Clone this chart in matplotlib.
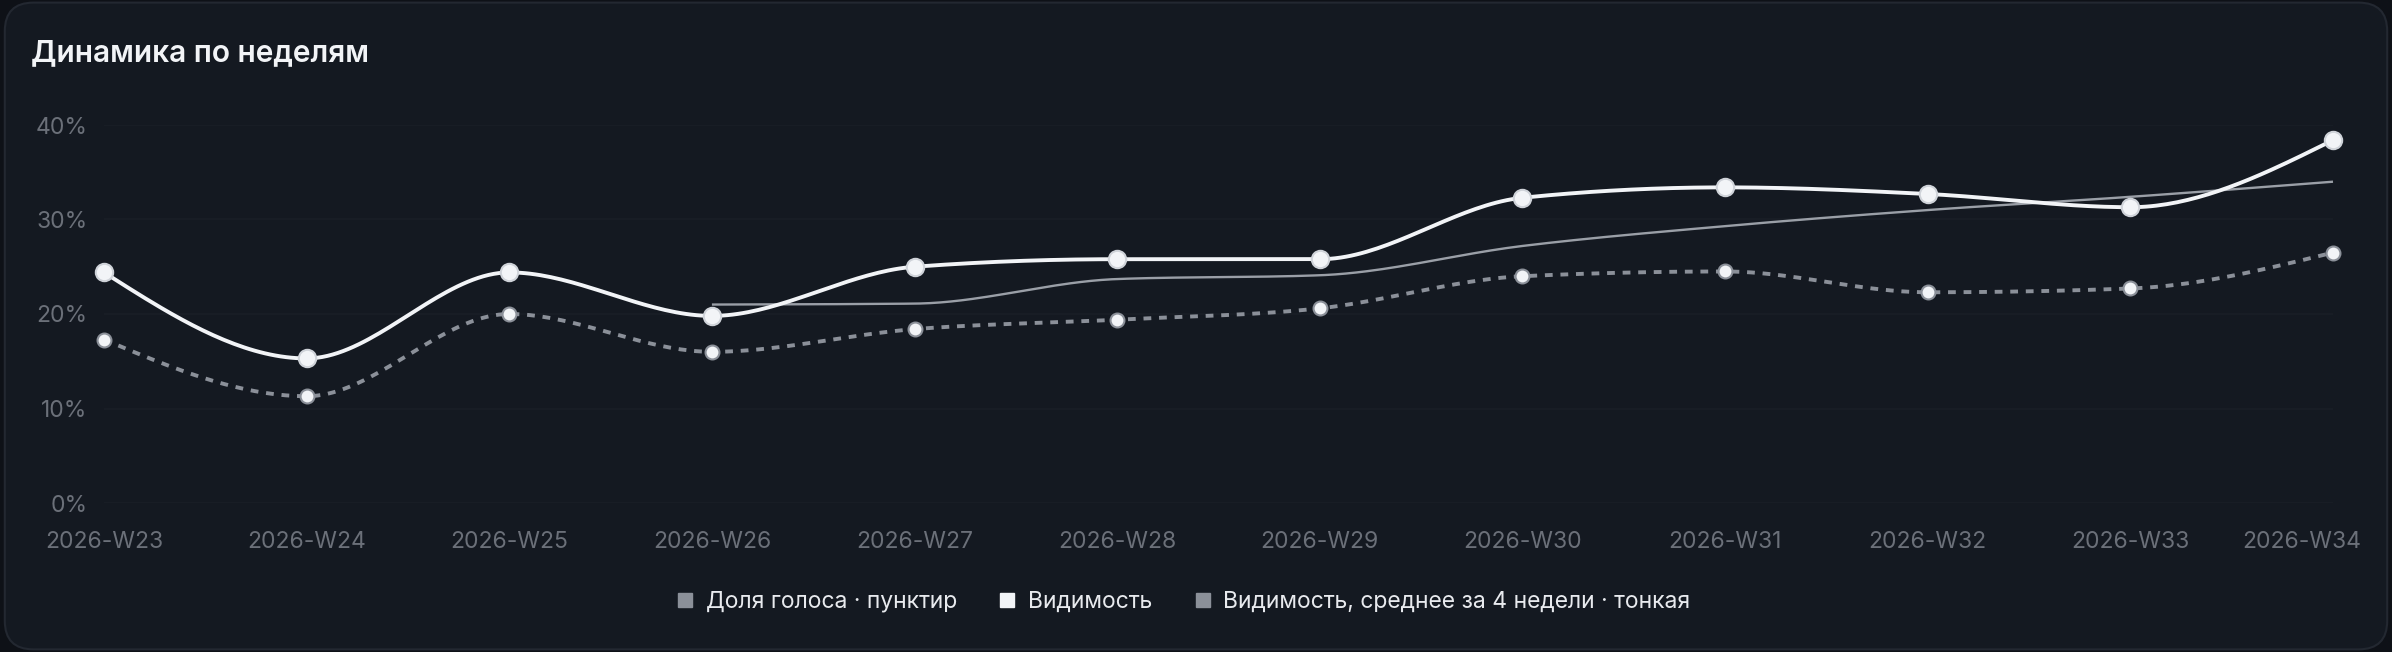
import numpy as np
import matplotlib
matplotlib.use('Agg')
import matplotlib.pyplot as plt
from matplotlib.patches import FancyBboxPatch
from matplotlib.lines import Line2D
from matplotlib.transforms import ScaledTranslation

weeks = ['2026-W23', '2026-W24', '2026-W25', '2026-W26', '2026-W27', '2026-W28',
         '2026-W29', '2026-W30', '2026-W31', '2026-W32', '2026-W33', '2026-W34']
visibility = [24.4, 15.3, 24.4, 19.8, 25.0, 25.8, 25.8, 32.3, 33.4, 32.7, 31.3, 38.4]
share_of_voice = [17.3, 11.3, 20.0, 16.0, 18.4, 19.4, 20.6, 24.0, 24.5, 22.3, 22.7, 26.5]
# 4-week average starts at W26
avg_start = 3
visibility_avg4 = [21.0, 21.1, 23.7, 24.1, 27.2, 29.3, 31.0, 32.4, 34.0]
y_ticks = [0, 10, 20, 30, 40]

BG_OUT = '#0e1117'
BG = '#141921'
GRID = '#1a1f27'
TICK = '#6b7079'
WHITE = '#f2f4f7'
GRAY = '#8b9099'
THIN = '#9a9fa7'

plt.rcParams['font.family'] = ['Inter', 'DejaVu Sans']


def monotone_x(x, y, n=40):
    # same as d3.curveMonotoneX
    x = np.asarray(x, float)
    y = np.asarray(y, float)
    h = np.diff(x)
    s = np.diff(y) / h
    t = np.zeros(len(x))
    for i in range(1, len(x) - 1):
        s0, s1 = s[i - 1], s[i]
        p = (s0 * h[i] + s1 * h[i - 1]) / (h[i - 1] + h[i])
        t[i] = (np.sign(s0) + np.sign(s1)) * min(abs(s0), abs(s1), 0.5 * abs(p))
    t[0] = (3 * s[0] - t[1]) / 2
    t[-1] = (3 * s[-1] - t[-2]) / 2
    xs, ys = [], []
    for i in range(len(x) - 1):
        u = np.linspace(0, 1, n)
        h00 = 2 * u**3 - 3 * u**2 + 1
        h10 = u**3 - 2 * u**2 + u
        h01 = -2 * u**3 + 3 * u**2
        h11 = u**3 - u**2
        xs.append(x[i] + u * h[i])
        ys.append(h00 * y[i] + h10 * h[i] * t[i] + h01 * y[i + 1] + h11 * h[i] * t[i + 1])
    return np.concatenate(xs), np.concatenate(ys)


fig = plt.figure(figsize=[23.92, 6.52], dpi=100, facecolor=BG_OUT)
card = FancyBboxPatch((0.002, 0.004), 0.996, 0.992, boxstyle='round,pad=0,rounding_size=0.012',
                      transform=fig.transFigure, facecolor=BG, edgecolor='#232831',
                      linewidth=1.5, mutation_aspect=2392 / 652, zorder=-10)
fig.patches.append(card)

ax = fig.add_axes([104 / 2392, 1 - 503 / 652, (2333 - 104) / 2392, (503 - 125) / 652])
ax.set_zorder(1)
ax.set_facecolor('none')
for sp in ax.spines.values():
    sp.set_visible(False)

x = np.arange(len(weeks))

ax.set_xlim(0, len(weeks) - 1)
ax.set_ylim(0, 40)
ax.set_yticks(y_ticks)
ax.set_yticklabels([f'{v}%' for v in y_ticks])
ax.set_xticks(x)
ax.set_xticklabels(weeks)
ax.tick_params(axis='y', length=0, pad=12, labelsize=16.5, labelcolor=TICK)
ax.tick_params(axis='x', length=0, pad=20, labelsize=16.5, labelcolor=TICK)
ax.grid(axis='y', color=GRID, linewidth=1.2)
ax.grid(axis='x', visible=False)
ax.set_axisbelow(True)

# last label is pulled inside the card
last = ax.get_xticklabels()[-1]
last.set_ha('right')
last.set_transform(last.get_transform() + ScaledTranslation(0.28, 0, fig.dpi_scale_trans))

# thin 4-week average
xa = x[avg_start:]
sx, sy = monotone_x(xa, visibility_avg4)
ax.plot(sx, sy, color=THIN, linewidth=1.7, solid_capstyle='butt', zorder=2, clip_on=False)

# share of voice, dashed
sx, sy = monotone_x(x, share_of_voice)
ax.plot(sx, sy, color=GRAY, linewidth=2.8, linestyle=(0, (2, 2)), dash_capstyle='butt',
        zorder=3, clip_on=False)
ax.plot(x, share_of_voice, linestyle='none', marker='o', markersize=10, markerfacecolor=WHITE,
        markeredgecolor=GRAY, markeredgewidth=1.5, zorder=4, clip_on=False)

# visibility
sx, sy = monotone_x(x, visibility)
ax.plot(sx, sy, color=WHITE, linewidth=2.8, zorder=5, clip_on=False)
ax.plot(x, visibility, linestyle='none', marker='o', markersize=12.5, markerfacecolor=WHITE,
        markeredgecolor='#cfd3d9', markeredgewidth=1.5, zorder=6, clip_on=False)

fig.text(31 / 2392, 1 - 53 / 652, 'Динамика по неделям', color=WHITE, fontsize=21.5,
         fontweight='semibold', ha='left', va='center')

handles = [
    Line2D([], [], linestyle='none', marker='s', markersize=10, color=GRAY),
    Line2D([], [], linestyle='none', marker='s', markersize=10, color=WHITE),
    Line2D([], [], linestyle='none', marker='s', markersize=10, color=GRAY),
]
labels = ['Доля голоса · пунктир', 'Видимость', 'Видимость, среднее за 4 недели · тонкая']
leg = fig.legend(handles, labels, loc='center', bbox_to_anchor=(0.4946, 1 - 602 / 652), ncol=3,
                 frameon=False, fontsize=16.5, handlelength=0.8, handletextpad=0.5,
                 columnspacing=1.8, labelcolor='#e8eaee')

fig.savefig('out.png', dpi=100, facecolor=BG_OUT)
